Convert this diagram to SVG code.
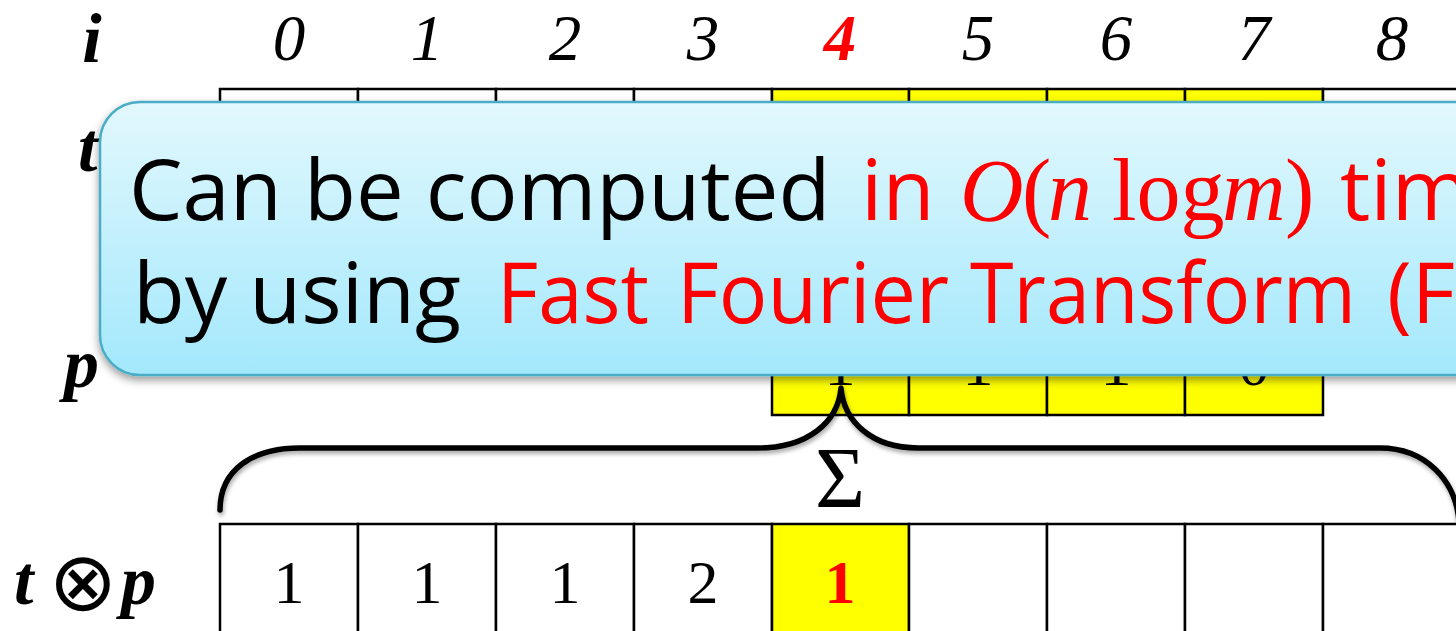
<svg xmlns="http://www.w3.org/2000/svg" width="1456" height="631" viewBox="0 0 1456 631">
<defs>
<linearGradient id="cg" x1="0" y1="0" x2="0" y2="1">
<stop offset="0" stop-color="#E2F8FD"/>
<stop offset="1" stop-color="#A3E8FC"/>
</linearGradient>
<filter id="sh" x="-5%" y="-10%" width="110%" height="125%">
<feDropShadow dx="0" dy="4" stdDeviation="4" flood-color="#000" flood-opacity="0.4"/>
</filter>
<filter id="bsh" x="-5%" y="-20%" width="110%" height="150%">
<feDropShadow dx="1" dy="3" stdDeviation="2" flood-color="#000" flood-opacity="0.35"/>
</filter>
</defs>
<style>
.cell{fill:#fff;stroke:#000;stroke-width:2.5}
.ycell{fill:#FFFF00;stroke:#000;stroke-width:2.5}
.idx{font-family:"Liberation Serif",serif;font-style:italic;font-size:65px;text-anchor:middle;fill:#000}
.lab{font-family:"Liberation Serif",serif;font-style:italic;font-weight:bold;font-size:70px;fill:#000}
.val{font-family:"Liberation Serif",serif;font-size:62px;text-anchor:middle;fill:#000}
.ct{font-family:"Open Sans","Noto Sans",sans-serif;font-size:85px;fill:#000}
.red{fill:#FF0000}
.m{font-family:"Liberation Serif",serif;font-size:88px;fill:#FF0000}
.it{font-style:italic}
</style>
<rect width="1456" height="631" fill="#fff"/>

<g id="index-row">
<text class="lab" x="92" y="62" text-anchor="middle">i</text>
<text class="idx" x="289" y="60">0</text>
<text class="idx" x="427" y="60">1</text>
<text class="idx" x="565" y="60">2</text>
<text class="idx" x="703" y="60">3</text>
<text class="idx" x="840" y="60" style="fill:#FF0000;font-weight:bold">4</text>
<text class="idx" x="978" y="60">5</text>
<text class="idx" x="1116" y="60">6</text>
<text class="idx" x="1254" y="60">7</text>
<text class="idx" x="1392" y="60">8</text>
</g>

<g id="t-row">
<text class="lab" x="78" y="171">t</text>
<rect class="cell" x="220" y="89" width="138" height="109"/>
<rect class="cell" x="358" y="89" width="138" height="109"/>
<rect class="cell" x="496" y="89" width="138" height="109"/>
<rect class="cell" x="634" y="89" width="138" height="109"/>
<rect class="ycell" x="772" y="89" width="137" height="109"/>
<rect class="ycell" x="909" y="89" width="138" height="109"/>
<rect class="ycell" x="1047" y="89" width="138" height="109"/>
<rect class="ycell" x="1185" y="89" width="138" height="109"/>
<rect class="cell" x="1323" y="89" width="138" height="109"/>
</g>

<g id="p-row">
<text class="lab" x="64" y="387">p</text>
<rect class="ycell" x="772" y="306" width="137" height="109"/>
<rect class="ycell" x="909" y="306" width="138" height="109"/>
<rect class="ycell" x="1047" y="306" width="138" height="109"/>
<rect class="ycell" x="1185" y="306" width="138" height="109"/>
<text class="val" x="840" y="385">1</text>
<text class="val" x="978" y="385">1</text>
<text class="val" x="1116" y="385">1</text>
<text class="val" x="1254" y="385">0</text>
</g>

<g id="connectors">
<path d="M220 510 C220 470 252 448 300 448 L758 448 C808 448 838 422 841 388 C844 422 872 448 918 448 L1380 448 C1425 448 1456 480 1459 522" fill="none" stroke="#000" stroke-width="5.5" stroke-linecap="round" stroke-linejoin="round" filter="url(#bsh)"/>
</g>

<g id="sigma">
<text x="840" y="507" text-anchor="middle" style="font-family:'Liberation Serif',serif;font-size:86px;fill:#000">Σ</text>
</g>

<g id="result-row">
<text class="lab" x="14" y="604">t</text>
<text x="83" y="610" text-anchor="middle" style="font-family:'DejaVu Sans',sans-serif;font-size:82px;fill:#000">⊗</text>
<text class="lab" x="121" y="604">p</text>
<rect class="cell" x="220" y="524" width="138" height="120"/>
<rect class="cell" x="358" y="524" width="138" height="120"/>
<rect class="cell" x="496" y="524" width="138" height="120"/>
<rect class="cell" x="634" y="524" width="138" height="120"/>
<rect class="ycell" x="772" y="524" width="137" height="120"/>
<rect class="cell" x="909" y="524" width="138" height="120"/>
<rect class="cell" x="1047" y="524" width="138" height="120"/>
<rect class="cell" x="1185" y="524" width="138" height="120"/>
<rect class="cell" x="1323" y="524" width="138" height="120"/>
<text class="val" x="289" y="603">1</text>
<text class="val" x="427" y="603">1</text>
<text class="val" x="565" y="603">1</text>
<text class="val" x="703" y="603">2</text>
<text class="val" x="840" y="603" style="fill:#FF0000;font-weight:bold">1</text>
</g>

<g id="callout">
<rect x="100" y="102" width="1420" height="273" rx="40" ry="40" fill="url(#cg)" stroke="#4BACC6" stroke-width="2.5" filter="url(#sh)"/>
<text class="ct" x="129" y="220">Can be computed</text>
<text class="ct red" x="861" y="220">in</text>
<text class="m it" x="960" y="220">O</text>
<text class="m" x="1022" y="220">(</text>
<text class="m it" x="1048" y="220">n</text>
<text class="m" x="1112" y="220">log</text>
<text class="m it" x="1222" y="220">m</text>
<text class="m" x="1285" y="220">)</text>
<text class="ct red" x="1340" y="220">tim</text>
<text class="ct" x="133" y="323" textLength="328" lengthAdjust="spacingAndGlyphs">by using</text>
<text class="ct red" x="497" y="323" textLength="152" lengthAdjust="spacingAndGlyphs">Fast</text>
<text class="ct red" x="677" y="323" textLength="272" lengthAdjust="spacingAndGlyphs">Fourier</text>
<text class="ct red" x="970" y="323" textLength="386" lengthAdjust="spacingAndGlyphs">Transform</text>
<text class="ct red" x="1387" y="323" textLength="68" lengthAdjust="spacingAndGlyphs">(F</text>
</g>
</svg>
